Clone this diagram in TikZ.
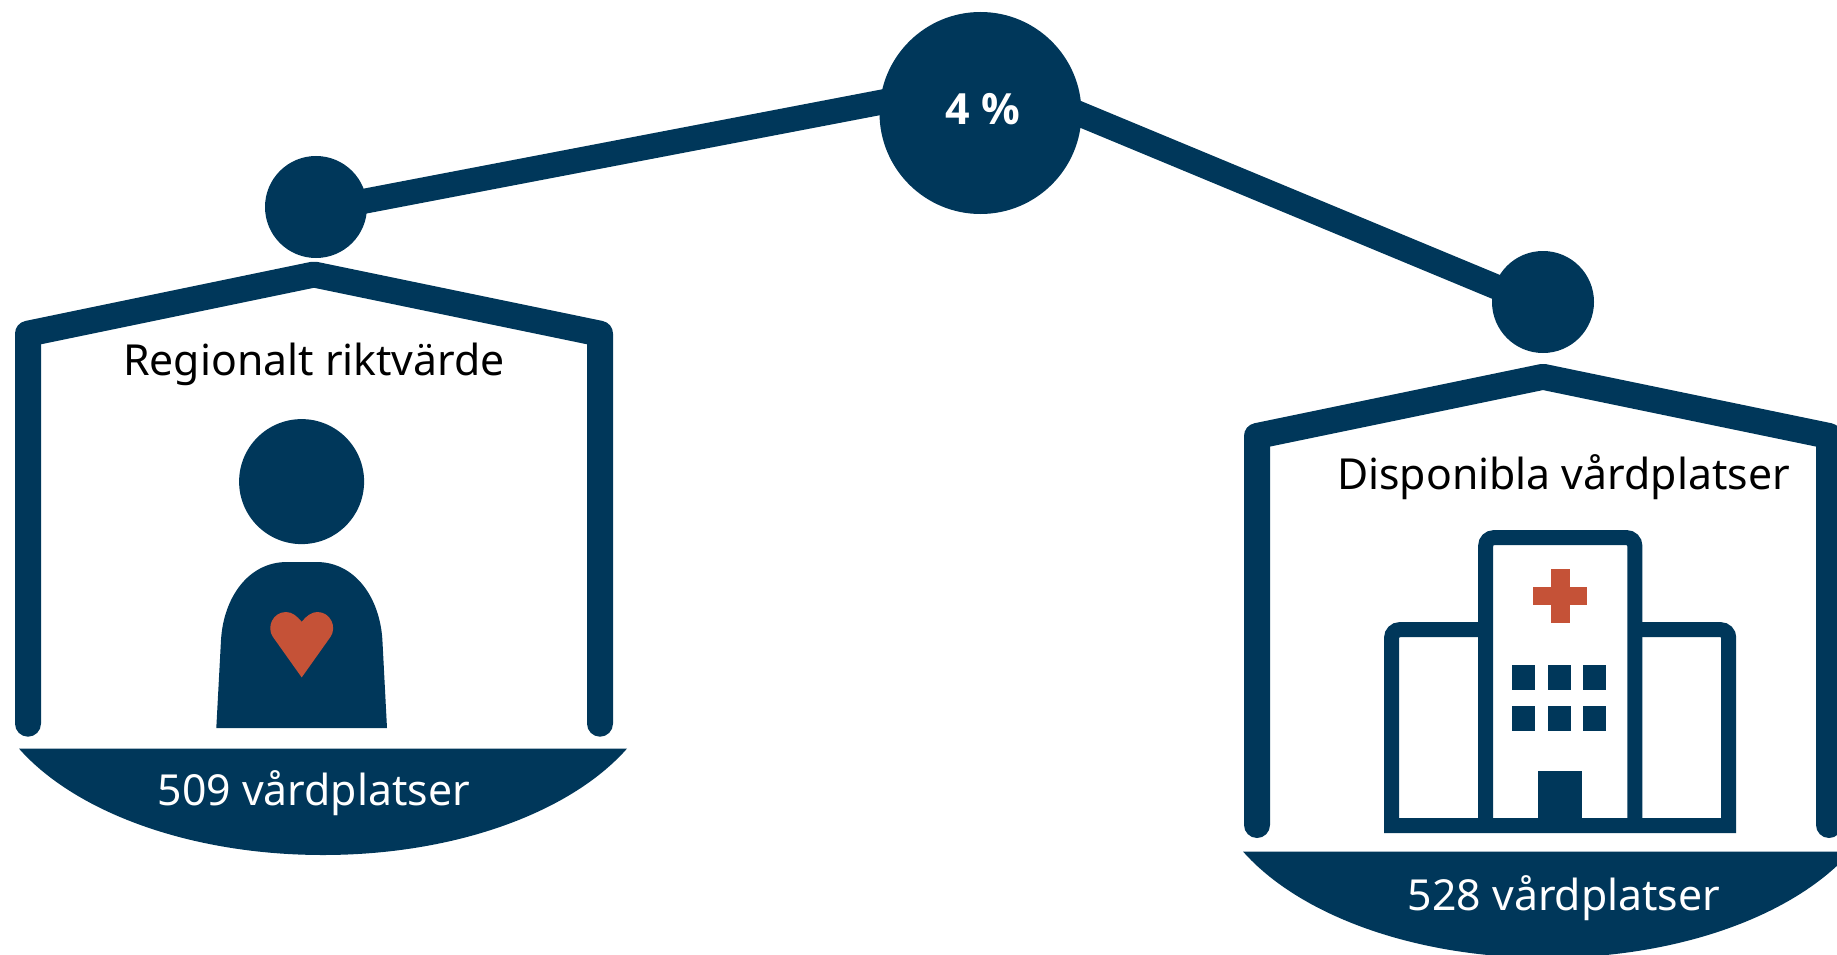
\documentclass[tikz,border=0pt]{standalone}
\usepackage{fontspec}
\setmainfont{Noto Sans}
\newfontfamily\pctfont{Open Sans}
\definecolor{navy}{HTML}{00375A}
\definecolor{rust}{HTML}{C55237}
\tikzset{
  dot/.style={circle,fill=navy,inner sep=0pt,outer sep=0pt,minimum size=#1},
  beam/.style={navy,line width=25pt,shorten <=-8pt,shorten >=-8pt},
  frame/.style={navy,line width=26pt,line cap=round,line join=round},
  wall/.style={navy,line width=15pt,line join=miter},
  bowl/.style={fill=navy},
  accent/.style={fill=rust},
  solid navy/.style={fill=navy},
  label/.style={anchor=base,inner sep=0pt,font=\fontsize{42.75}{50}\selectfont},
}
\begin{document}
\begin{tikzpicture}[x=1pt,y=-1pt]
\useasboundingbox (0,0) rectangle (1837,955);
% nodes of the balance
\node[dot=102pt] (lc) at (316,207) {};
\node[dot=102pt] (rc) at (1543,302) {};
\node[dot=202pt] (bc) at (980.5,113) {};
\draw[beam] (lc.7) -- (bc.174);
\draw[beam] (bc.-1) -- (rc.162);
\node[label,text=white,font=\pctfont\bfseries\fontsize{43}{50}\selectfont] (pct) at (982.6,125) {4 \%};
% left pan
\draw[frame] (28,723.7) -- (28,333.7) -- (314,274.5) -- (600,333.7) -- (600,723.7);
\path[bowl] (19,748.6) .. controls (75,812) and (190,855) .. (323,855)
  .. controls (456,855) and (571,812) .. (627,748.6) -- cycle;
\node[label] (lt) at (314,375.5) {Regionalt riktvärde};
\node[label,text=white] (lv) at (313.7,805.5) {509 vårdplatser};
% person
\node[dot=125pt] (head) at (301.6,481.6) {};
\path[solid navy] (216.3,728) -- (221,640) .. controls (223.5,598) and (248,562) .. (287,562)
  -- (316.4,562) .. controls (355.4,562) and (379.9,598) .. (382.4,640) -- (387,728) -- cycle;
\path[accent] (301.7,677.4) -- (273,637) .. controls (266,627) and (273,612) .. (286,612)
  .. controls (292,612) and (297,616) .. (301.7,621.8)
  .. controls (306.4,616) and (311.4,612) .. (317.4,612)
  .. controls (330.4,612) and (337.4,627) .. (330.4,637) -- cycle;
% right pan
\draw[frame] (1257,825) -- (1257,436) -- (1543,376.8) -- (1829,436) -- (1829,825);
\path[bowl] (1243,851.5) .. controls (1299,914.9) and (1414,957.9) .. (1547,957.9)
  .. controls (1680,957.9) and (1795,914.9) .. (1851,851.5) -- cycle;
\node[label] (rt) at (1563.5,489) {Disponibla vårdplatser};
\node[label,text=white] (rv) at (1564,910.6) {528 vårdplatser};
% hospital
\draw[wall,rounded corners=8pt] (1485.7,629.7) -- (1391.6,629.7) [sharp corners] -- (1391.6,825.7) -- (1728.7,825.7)
  [rounded corners=8pt] -- (1728.7,629.7) -- (1634.8,629.7);
\draw[wall,rounded corners=8pt] (1485.7,825.7) -- (1485.7,537.7) -- (1634.8,537.7) -- (1634.8,825.7);
\path[accent] (1551,569.1) rectangle (1569.5,622.8);
\path[accent] (1533.3,586.5) rectangle (1587.2,605);
\foreach \xa/\xb in {1512/1535.2,1548.2/1571,1583.2/1606}{
  \path[solid navy] (\xa,664.8) rectangle (\xb,689.9);
  \path[solid navy] (\xa,706.1) rectangle (\xb,730.8);
}
\path[solid navy] (1537.6,771.3) rectangle (1581.7,820);
\end{tikzpicture}
\end{document}
